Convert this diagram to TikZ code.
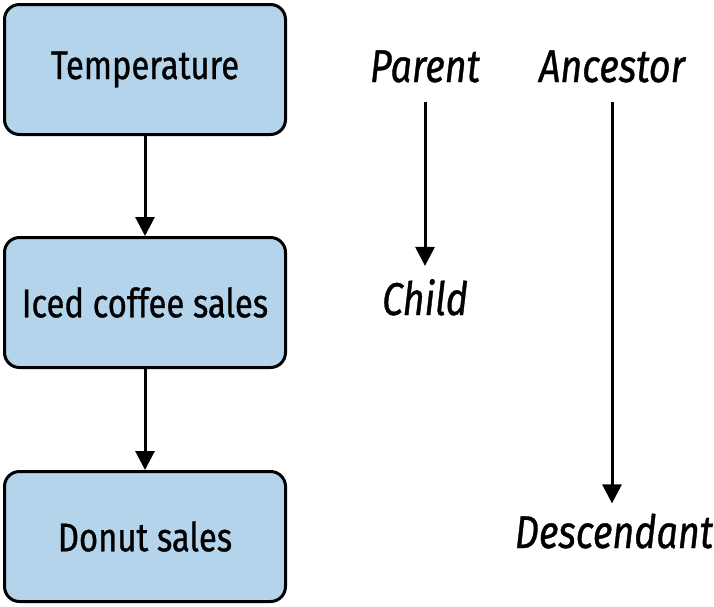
\documentclass[tikz,border=0pt]{standalone}
\usepackage{fontspec}
\setmainfont{Fira Sans}[FakeStretch=0.82,FakeBold=0.8]
\usetikzlibrary{arrows.meta}
\definecolor{boxblue}{HTML}{B3D4EA}
\tikzset{
  box/.style={draw=black, line width=3pt, fill=boxblue, rounded corners=15pt,
    minimum width=281pt, minimum height=130pt, inner sep=0pt, font=\fontsize{40}{44}\selectfont},
  term/.style={inner sep=0pt, font=\fontsize{46}{50}\selectfont\itshape},
  arr/.style={line width=3pt, -{Triangle[length=19pt,width=19pt]}}
}
\begin{document}
\begin{tikzpicture}[x=1pt,y=-1pt]
\useasboundingbox (0,0) rectangle (714,606);
\node[box] (temp) at (145,69.5) {Temperature};
\node[box] (iced) at (145,302.5) {Iced coffee sales};
\node[box] (donut) at (145,536.5) {Donut sales};
\draw[arr] (temp) -- (iced);
\draw[arr] (iced) -- (donut);
\node[term, anchor=base] (parent) at (425,82) {Parent};
\node[term, anchor=base] (child) at (425,315) {Child};
\node[term, anchor=base] (anc) at (612,82) {Ancestor};
\node[term, anchor=base] (desc) at (614,548) {Descendant};
\draw[arr] ([yshift=-20pt]parent.base) -- ([yshift=13pt]child.north);
\draw[arr] ([yshift=-20pt]anc.base) -- ([xshift=-2pt,yshift=10pt]desc.north);
\end{tikzpicture}
\end{document}
